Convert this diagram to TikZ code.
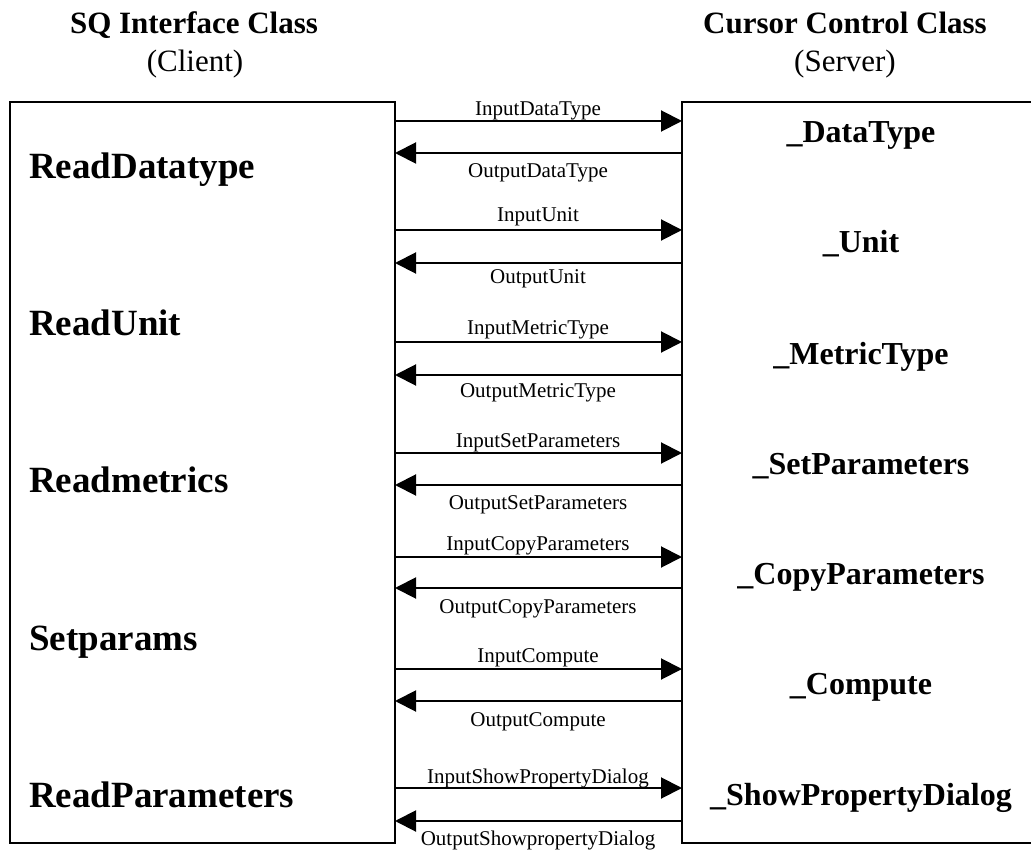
\documentclass[tikz,border=0pt]{standalone}
\usepackage{fontspec}
\setmainfont{Liberation Serif}
\usetikzlibrary{arrows.meta}
\begin{document}
\begin{tikzpicture}[x=1pt,y=-1pt,
  classbox/.style={draw, line width=2.5pt, rectangle, outer sep=0pt, inner sep=0pt, anchor=north west},
  msg/.style={line width=2pt, -{Triangle[length=21pt,width=21pt]}},
  head/.style={font=\fontsize{31}{31}\selectfont\bfseries, anchor=base, inner sep=0pt},
  role/.style={font=\fontsize{31}{31}\selectfont, anchor=base, inner sep=0pt},
  clientfn/.style={font=\fontsize{37}{37}\selectfont\bfseries, anchor=base west, inner sep=0pt},
  serverfn/.style={font=\fontsize{32}{32}\selectfont\bfseries, anchor=base, inner sep=0pt},
  msglabel/.style={font=\fontsize{21}{21}\selectfont, anchor=base, inner sep=0pt}]
\useasboundingbox (0,0) rectangle (1031,850);
\clip (0,0) rectangle (1031,850);

% column headings
\node[head] (hclient) at (194,34) {SQ Interface Class};
\node[role] (rclient) at (195,72) {(Client)};
\node[head] (hserver) at (845,34) {Cursor Control Class};
\node[role] (rserver) at (845,72) {(Server)};

% the two class boxes
\node[classbox, minimum width=385pt, minimum height=741pt] (client) at (10,102) {};
\node[classbox, minimum width=400pt, minimum height=741pt] (server) at (682,102) {};

% client methods
\foreach \i/\y/\txt in {1/179/ReadDatatype, 2/336/ReadUnit, 3/492/Readmetrics,
                        4/650/Setparams, 5/807/ReadParameters}
  \node[clientfn] (cf\i) at (29,\y) {\txt};

% server methods
\foreach \i/\y/\txt in {1/143/\_DataType, 2/253/\_Unit, 3/364/\_MetricType,
                        4/474/\_SetParameters, 5/584/\_CopyParameters,
                        6/694/\_Compute, 7/805/\_ShowPropertyDialog}
  \node[serverfn] (sf\i) at (861,\y) {\txt};

% requests, client to server
\foreach \i/\y/\ly/\txt in {1/121/116/InputDataType, 2/230/222/InputUnit,
                            3/342/335/InputMetricType, 4/453/447/InputSetParameters,
                            5/557/550/InputCopyParameters, 6/669/662/InputCompute,
                            7/788/783/InputShowPropertyDialog}
{
  \coordinate (in\i) at (0,\y);
  \draw[msg] (client.east |- in\i) -- (server.west |- in\i);
  \node[msglabel] (inl\i) at (538,\ly) {\txt};
}

% replies, server to client
\foreach \i/\y/\ly/\txt in {1/153/178/OutputDataType, 2/263/284/OutputUnit,
                            3/375/397/OutputMetricType, 4/485/509/OutputSetParameters,
                            5/588/613/OutputCopyParameters, 6/701/726/OutputCompute,
                            7/821/845/OutputShowpropertyDialog}
{
  \coordinate (out\i) at (0,\y);
  \draw[msg] (server.west |- out\i) -- (client.east |- out\i);
  \node[msglabel] (outl\i) at (538,\ly) {\txt};
}
\end{tikzpicture}
\end{document}
